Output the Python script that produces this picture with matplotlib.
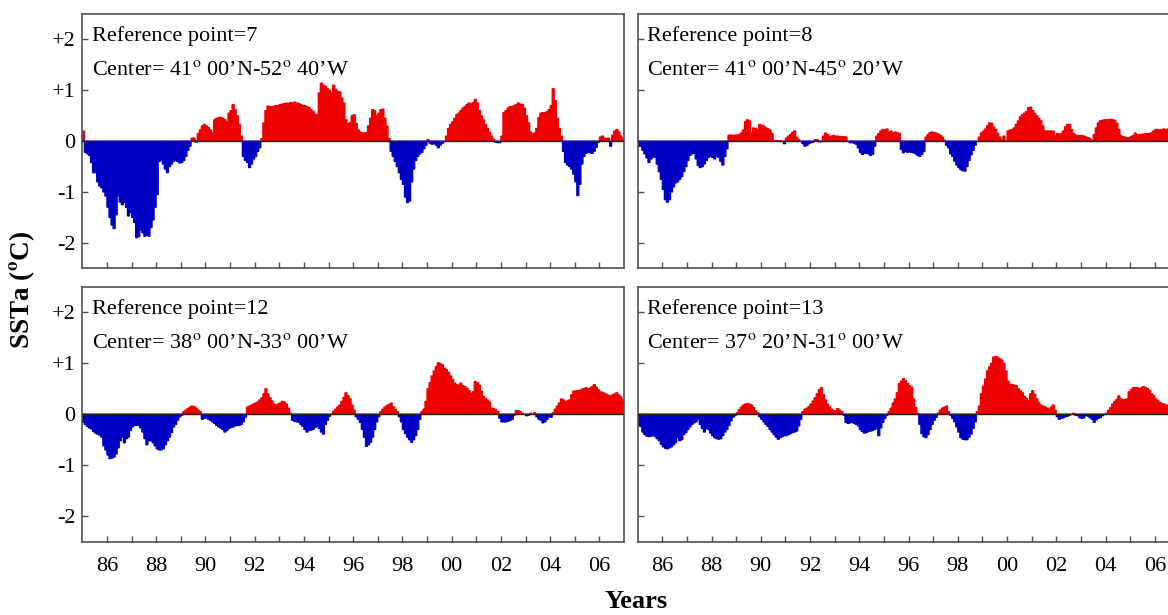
import numpy as np
import matplotlib
matplotlib.use("Agg")
import matplotlib.pyplot as plt

plt.rcParams["font.family"] = ["Liberation Serif", "DejaVu Serif"]
plt.rcParams["mathtext.fontset"] = "stix"

# monthly SST anomalies (degC), Jan 1985 .. Dec 2006, one row per year
first_year = 1985

ssta_rp7 = [
    0.20, -0.22, -0.25, -0.28, -0.42, -0.62, -0.62, -0.80, -0.88, -0.92, -1.00, -1.08,
    -1.30, -1.50, -1.65, -1.72, -1.45, -1.08, -1.20, -1.25, -1.20, -1.30, -1.47, -1.40,
    -1.50, -1.60, -1.90, -1.88, -1.75, -1.80, -1.87, -1.85, -1.87, -1.70, -1.55, -1.30,
    -1.05, -0.40, -0.38, -0.45, -0.55, -0.62, -0.50, -0.45, -0.40, -0.38, -0.40, -0.43,
    -0.42, -0.38, -0.30, -0.18, -0.10, 0.06, 0.06, -0.02, 0.15, 0.22, 0.30, 0.33,
    0.30, 0.27, 0.22, 0.17, 0.42, 0.45, 0.46, 0.47, 0.45, 0.42, 0.38, 0.55,
    0.60, 0.72, 0.62, 0.50, 0.33, 0.10, -0.30, -0.38, -0.42, -0.52, -0.45, -0.35,
    -0.30, -0.20, -0.13, 0.05, 0.36, 0.60, 0.69, 0.68, 0.68, 0.69, 0.70, 0.70,
    0.72, 0.73, 0.74, 0.75, 0.74, 0.76, 0.75, 0.77, 0.75, 0.74, 0.72, 0.70,
    0.70, 0.68, 0.66, 0.62, 0.58, 0.53, 0.52, 0.95, 1.14, 1.10, 1.08, 1.03,
    1.00, 0.95, 1.10, 1.02, 0.98, 0.97, 0.85, 0.75, 0.42, 0.34, 0.36, 0.50,
    0.52, 0.35, 0.22, 0.18, 0.16, 0.16, 0.17, 0.30, 0.45, 0.62, 0.60, 0.50,
    0.55, 0.62, 0.63, 0.45, 0.30, 0.05, -0.20, -0.30, -0.40, -0.50, -0.62, -0.75,
    -0.85, -1.10, -1.21, -1.18, -0.80, -0.55, -0.38, -0.30, -0.25, -0.22, -0.15, -0.08,
    0.03, -0.04, -0.06, -0.05, -0.08, -0.13, -0.08, -0.04, -0.01, 0.10, 0.25, 0.33,
    0.38, 0.45, 0.52, 0.55, 0.60, 0.65, 0.68, 0.72, 0.75, 0.73, 0.76, 0.82,
    0.75, 0.60, 0.50, 0.42, 0.33, 0.25, 0.18, 0.10, 0.04, -0.02, -0.03, -0.03,
    0.10, 0.56, 0.60, 0.65, 0.68, 0.68, 0.70, 0.72, 0.75, 0.73, 0.72, 0.65,
    0.50, 0.36, 0.18, 0.14, 0.16, 0.25, 0.46, 0.55, 0.56, 0.56, 0.58, 0.62,
    0.70, 1.03, 0.80, 0.45, 0.25, 0.10, -0.20, -0.42, -0.47, -0.50, -0.55, -0.65,
    -0.80, -1.07, -0.85, -0.45, -0.30, -0.24, -0.22, -0.23, -0.24, -0.20, -0.12, -0.02,
    0.08, 0.10, 0.06, 0.05, 0.06, -0.10, 0.12, 0.20, 0.23, 0.18, 0.10, 0.05,
]

ssta_rp8 = [
    -0.10, -0.10, -0.18, -0.25, -0.33, -0.42, -0.35, -0.31, -0.32, -0.45, -0.60, -0.75,
    -0.95, -1.15, -1.20, -1.15, -1.00, -0.90, -0.82, -0.80, -0.75, -0.70, -0.60, -0.50,
    -0.38, -0.28, -0.25, -0.24, -0.35, -0.48, -0.52, -0.50, -0.45, -0.38, -0.32, -0.30,
    -0.32, -0.35, -0.30, -0.32, -0.40, -0.47, -0.30, -0.15, 0.12, 0.12, 0.11, 0.12,
    0.12, 0.13, 0.16, 0.22, 0.38, 0.42, 0.40, 0.16, 0.26, 0.25, 0.23, 0.33,
    0.31, 0.30, 0.26, 0.24, 0.22, 0.15, 0.01, 0.01, 0.01, 0.01, 0.00, -0.05,
    0.06, 0.10, 0.13, 0.17, 0.20, 0.08, 0.03, 0.00, -0.05, -0.10, -0.08, -0.05,
    -0.03, -0.02, 0.03, 0.03, -0.01, -0.01, 0.10, 0.16, 0.13, 0.10, 0.10, 0.11,
    0.10, 0.10, 0.09, 0.09, 0.09, 0.08, 0.00, -0.03, -0.03, -0.04, -0.06, -0.13,
    -0.22, -0.26, -0.24, -0.24, -0.25, -0.28, -0.26, -0.10, 0.10, 0.15, 0.20, 0.23,
    0.22, 0.24, 0.18, 0.20, 0.16, 0.18, 0.17, 0.15, -0.16, -0.23, -0.20, -0.22,
    -0.21, -0.22, -0.23, -0.25, -0.28, -0.30, -0.26, -0.20, 0.08, 0.13, 0.17, 0.18,
    0.17, 0.16, 0.14, 0.12, 0.08, 0.02, -0.08, -0.13, -0.25, -0.30, -0.39, -0.47,
    -0.52, -0.56, -0.58, -0.59, -0.50, -0.38, -0.27, -0.18, -0.08, 0.00, 0.08, 0.16,
    0.20, 0.24, 0.30, 0.36, 0.35, 0.28, 0.23, 0.15, 0.08, 0.03, 0.10, 0.00,
    0.20, 0.22, 0.23, 0.26, 0.33, 0.40, 0.48, 0.52, 0.55, 0.58, 0.66, 0.67,
    0.60, 0.55, 0.50, 0.45, 0.40, 0.30, 0.20, 0.20, 0.20, 0.20, 0.20, 0.10,
    0.15, 0.13, 0.15, 0.20, 0.28, 0.33, 0.33, 0.23, 0.15, 0.12, 0.11, 0.11,
    0.11, 0.10, 0.08, 0.07, 0.05, 0.02, 0.13, 0.26, 0.36, 0.40, 0.41, 0.42,
    0.42, 0.42, 0.43, 0.42, 0.41, 0.35, 0.23, 0.11, 0.09, 0.08, 0.07, 0.07,
    0.09, 0.11, 0.16, 0.13, 0.13, 0.13, 0.14, 0.15, 0.15, 0.15, 0.17, 0.20,
    0.23, 0.23, 0.22, 0.23, 0.24, 0.23, 0.24, 0.22, 0.20, 0.18, 0.20, 0.22,
]

ssta_rp12 = [
    -0.16, -0.20, -0.24, -0.27, -0.29, -0.34, -0.37, -0.39, -0.41, -0.45, -0.62, -0.70,
    -0.80, -0.87, -0.86, -0.84, -0.78, -0.66, -0.52, -0.45, -0.56, -0.48, -0.45, -0.32,
    -0.25, -0.22, -0.22, -0.22, -0.27, -0.35, -0.48, -0.60, -0.52, -0.52, -0.56, -0.62,
    -0.68, -0.70, -0.70, -0.68, -0.60, -0.52, -0.45, -0.36, -0.25, -0.20, -0.12, -0.05,
    -0.02, 0.05, 0.08, 0.11, 0.14, 0.16, 0.15, 0.12, 0.08, 0.05, -0.10, -0.08,
    -0.07, -0.10, -0.12, -0.15, -0.18, -0.22, -0.25, -0.27, -0.30, -0.35, -0.32, -0.28,
    -0.26, -0.25, -0.23, -0.22, -0.22, -0.20, -0.15, -0.06, 0.14, 0.16, 0.18, 0.20,
    0.22, 0.24, 0.28, 0.32, 0.40, 0.50, 0.40, 0.32, 0.26, 0.20, 0.18, 0.20,
    0.22, 0.25, 0.24, 0.20, 0.12, 0.02, -0.12, -0.14, -0.15, -0.16, -0.20, -0.24,
    -0.30, -0.35, -0.32, -0.31, -0.30, -0.26, -0.24, -0.28, -0.35, -0.39, -0.20, -0.12,
    -0.04, 0.00, 0.06, 0.10, 0.14, 0.18, 0.25, 0.33, 0.42, 0.36, 0.30, 0.18,
    0.08, -0.05, -0.10, -0.16, -0.30, -0.45, -0.63, -0.60, -0.55, -0.45, -0.30, -0.15,
    -0.05, 0.05, 0.10, 0.14, 0.17, 0.19, 0.22, 0.15, 0.10, 0.05, -0.05, -0.15,
    -0.30, -0.38, -0.45, -0.50, -0.55, -0.50, -0.42, -0.30, -0.10, 0.05, 0.10, 0.25,
    0.50, 0.62, 0.75, 0.85, 0.93, 1.01, 0.99, 0.97, 0.90, 0.87, 0.82, 0.75,
    0.68, 0.61, 0.58, 0.57, 0.61, 0.56, 0.54, 0.51, 0.46, 0.41, 0.44, 0.64,
    0.62, 0.57, 0.45, 0.35, 0.31, 0.28, 0.24, 0.12, 0.11, 0.09, 0.05, -0.08,
    -0.15, -0.15, -0.15, -0.14, -0.12, -0.10, -0.02, 0.07, 0.07, 0.05, 0.02, 0.00,
    -0.03, -0.02, 0.02, 0.00, 0.03, -0.05, -0.10, -0.12, -0.17, -0.15, -0.10, -0.05,
    -0.06, 0.03, 0.10, 0.16, 0.22, 0.30, 0.28, 0.24, 0.26, 0.28, 0.38, 0.45,
    0.46, 0.46, 0.47, 0.49, 0.50, 0.52, 0.50, 0.51, 0.54, 0.58, 0.53, 0.48,
    0.44, 0.43, 0.41, 0.39, 0.37, 0.36, 0.38, 0.40, 0.42, 0.38, 0.34, 0.28,
]

ssta_rp13 = [
    -0.22, -0.24, -0.35, -0.40, -0.43, -0.44, -0.43, -0.42, -0.44, -0.48, -0.52, -0.59,
    -0.64, -0.67, -0.68, -0.66, -0.64, -0.60, -0.56, -0.46, -0.52, -0.50, -0.40, -0.36,
    -0.30, -0.25, -0.20, -0.17, -0.15, -0.10, -0.20, -0.28, -0.35, -0.28, -0.30, -0.37,
    -0.42, -0.46, -0.48, -0.49, -0.48, -0.42, -0.35, -0.30, -0.22, -0.13, -0.06, -0.03,
    0.03, 0.09, 0.14, 0.18, 0.20, 0.21, 0.20, 0.18, 0.13, 0.07, 0.03, -0.05,
    -0.10, -0.15, -0.20, -0.24, -0.30, -0.35, -0.40, -0.45, -0.49, -0.46, -0.44, -0.42,
    -0.42, -0.40, -0.38, -0.36, -0.35, -0.33, -0.23, -0.10, 0.05, 0.10, 0.12, 0.15,
    0.20, 0.26, 0.32, 0.40, 0.48, 0.52, 0.38, 0.28, 0.20, 0.15, 0.10, 0.07,
    0.07, 0.11, 0.08, 0.05, -0.02, -0.16, -0.18, -0.17, -0.16, -0.18, -0.20, -0.23,
    -0.30, -0.34, -0.37, -0.36, -0.34, -0.33, -0.32, -0.30, -0.28, -0.42, -0.27, -0.16,
    -0.08, -0.02, 0.05, 0.12, 0.22, 0.30, 0.42, 0.60, 0.65, 0.70, 0.66, 0.60,
    0.56, 0.53, 0.30, 0.13, 0.02, -0.20, -0.38, -0.44, -0.46, -0.40, -0.30, -0.20,
    -0.12, -0.06, 0.02, 0.08, 0.12, 0.14, 0.16, 0.05, -0.02, -0.08, -0.15, -0.25,
    -0.35, -0.46, -0.49, -0.50, -0.50, -0.45, -0.39, -0.28, -0.15, 0.05, 0.16, 0.40,
    0.55, 0.69, 0.85, 0.93, 1.00, 1.12, 1.13, 1.12, 1.09, 1.06, 1.00, 0.85,
    0.65, 0.59, 0.58, 0.57, 0.56, 0.50, 0.46, 0.42, 0.35, 0.31, 0.27, 0.40,
    0.46, 0.39, 0.30, 0.23, 0.18, 0.16, 0.15, 0.12, 0.10, 0.14, 0.18, 0.08,
    -0.05, -0.10, -0.08, -0.07, -0.05, -0.04, -0.02, 0.00, 0.02, -0.02, -0.03, -0.07,
    -0.08, -0.07, -0.02, -0.04, -0.07, -0.10, -0.16, -0.11, -0.08, -0.07, -0.03, -0.01,
    0.02, 0.08, 0.13, 0.20, 0.25, 0.29, 0.36, 0.30, 0.28, 0.29, 0.30, 0.44,
    0.48, 0.52, 0.52, 0.52, 0.50, 0.52, 0.54, 0.52, 0.50, 0.46, 0.40, 0.36,
    0.30, 0.27, 0.23, 0.21, 0.20, 0.18, 0.18, 0.19, 0.20, 0.20, 0.19, 0.18,
]

ref_points = ["7", "8", "12", "13"]
centers = [
    "41$^{\\rm o}$ 00\u2019N-52$^{\\rm o}$ 40\u2019W",
    "41$^{\\rm o}$ 00\u2019N-45$^{\\rm o}$ 20\u2019W",
    "38$^{\\rm o}$ 00\u2019N-33$^{\\rm o}$ 00\u2019W",
    "37$^{\\rm o}$ 20\u2019N-31$^{\\rm o}$ 00\u2019W",
]
series = [ssta_rp7, ssta_rp8, ssta_rp12, ssta_rp13]

RED = "#ee0000"
BLUE = "#0000c4"
FRAME = "#505050"

W, H = 1168, 615
fig = plt.figure(figsize=(W / 100, H / 100), dpi=100)

# axes boxes in pixels: left, top, right, bottom
boxes = [
    (82.3, 14.0, 624.0, 268.3),
    (637.7, 14.0, 1179.4, 268.3),
    (82.3, 286.7, 624.0, 541.7),
    (637.7, 286.7, 1179.4, 541.7),
]

for i, (vals, rp, cen, box) in enumerate(zip(series, ref_points, centers, boxes)):
    l, t, r, b = box
    ax = fig.add_axes([l / W, 1 - b / H, (r - l) / W, (b - t) / H])
    vals = np.array(vals)
    x = first_year + (np.arange(len(vals)) + 0.5) / 12.0
    cols = np.where(vals >= 0, RED, BLUE)
    ax.bar(x, vals, width=1 / 12.0, color=cols, edgecolor=cols, linewidth=0.9,
           snap=False)
    ax.axhline(0, color="#222222", lw=1.0, zorder=3)

    ax.set_xlim(1985, 2007)
    ax.set_ylim(-2.5, 2.5)

    years = np.arange(1986, 2007)
    ax.set_xticks(years)
    if i >= 2:
        ax.set_xticklabels(["%02d" % (y % 100) if y % 2 == 0 else "" for y in years])
    else:
        ax.set_xticklabels([])
    ax.set_yticks([-2, -1, 0, 1, 2])
    if i % 2 == 0:
        ax.set_yticklabels(["-2", "-1", "0", "+1", "+2"])
    else:
        ax.set_yticklabels([])

    ax.tick_params(axis="both", direction="in", length=4, width=1, color=FRAME,
                   labelsize=16, top=False, right=False)
    ax.tick_params(axis="x", pad=11)
    ax.tick_params(axis="y", pad=5)
    for sp in ax.spines.values():
        sp.set_color(FRAME)
        sp.set_linewidth(1.2)

    ax.text(0.018, 0.913, "Reference point=" + rp, transform=ax.transAxes,
            fontsize=16, va="center", ha="left")
    ax.text(0.018, 0.778, "Center= " + cen, transform=ax.transAxes,
            fontsize=16, va="center", ha="left")

fig.text(0.019, 0.528, "SSTa ($\\mathbf{^o}$C)", rotation=90, fontsize=19.5,
         fontweight="bold", ha="center", va="center")
fig.text(0.545, 0.004, "Years", fontsize=19, fontweight="bold",
         ha="center", va="bottom")

fig.savefig("out.png", dpi=100)
